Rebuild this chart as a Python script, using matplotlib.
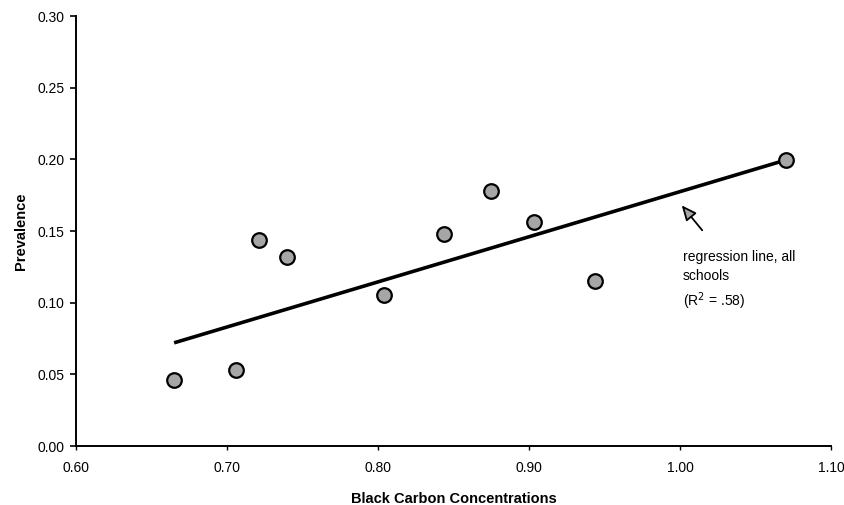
import matplotlib
matplotlib.use('Agg')
import matplotlib.pyplot as plt

plt.rcParams['font.family'] = ['Liberation Sans', 'DejaVu Sans']

# school values
black_carbon = [0.665, 0.706, 0.721, 0.740, 0.804, 0.844, 0.875, 0.903, 0.944, 1.070]
prevalence = [0.046, 0.053, 0.144, 0.132, 0.1055, 0.148, 0.178, 0.156, 0.115, 0.1995]

# regression line ends
reg_x = [0.665, 1.070]
reg_y = [0.072, 0.1995]

x_ticks = [0.60, 0.70, 0.80, 0.90, 1.00, 1.10]
y_ticks = [0.00, 0.05, 0.10, 0.15, 0.20, 0.25, 0.30]

fig = plt.figure(figsize=(8.45, 5.05), dpi=100)
ax = fig.add_axes([0.0899, 0.1168, 0.8935, 0.8515])

ax.plot(reg_x, reg_y, color='black', lw=2.6, solid_capstyle='butt', zorder=2)
ax.plot(black_carbon, prevalence, 'o', ms=10.5, mfc='#a6a6a6', mec='black',
        mew=1.6, zorder=3)

ax.set_xlim(0.60, 1.10)
ax.set_ylim(0.0, 0.30)
ax.set_xticks(x_ticks)
ax.set_yticks(y_ticks)
ax.set_xticklabels([f'{v:.2f}' for v in x_ticks])
ax.set_yticklabels([f'{v:.2f}' for v in y_ticks])

for side in ['top', 'right']:
    ax.spines[side].set_visible(False)
for side in ['left', 'bottom']:
    ax.spines[side].set_linewidth(1.4)

ax.tick_params(axis='y', direction='out', length=4, width=1.2, labelsize=10, pad=4)
ax.tick_params(axis='x', direction='out', length=3, width=1.0, labelsize=10, pad=8)

ax.set_xlabel('Black Carbon Concentrations', fontsize=10.5, fontweight='bold', labelpad=12)
ax.set_ylabel('Prevalence', fontsize=10.5, fontweight='bold', labelpad=7)

ax.annotate('', xy=(1.0, 0.1694), xytext=(1.0159, 0.149),
            arrowprops=dict(arrowstyle='-|>,head_length=0.9,head_width=0.4',
                            fc='#a6a6a6', ec='black', lw=1.3))
ax.text(1.002, 0.1365, 'regression line, all\nschools\n(R$^2$ = .58)',
        fontsize=10, va='top', ha='left', linespacing=1.45)

fig.savefig('out.png', dpi=100)
